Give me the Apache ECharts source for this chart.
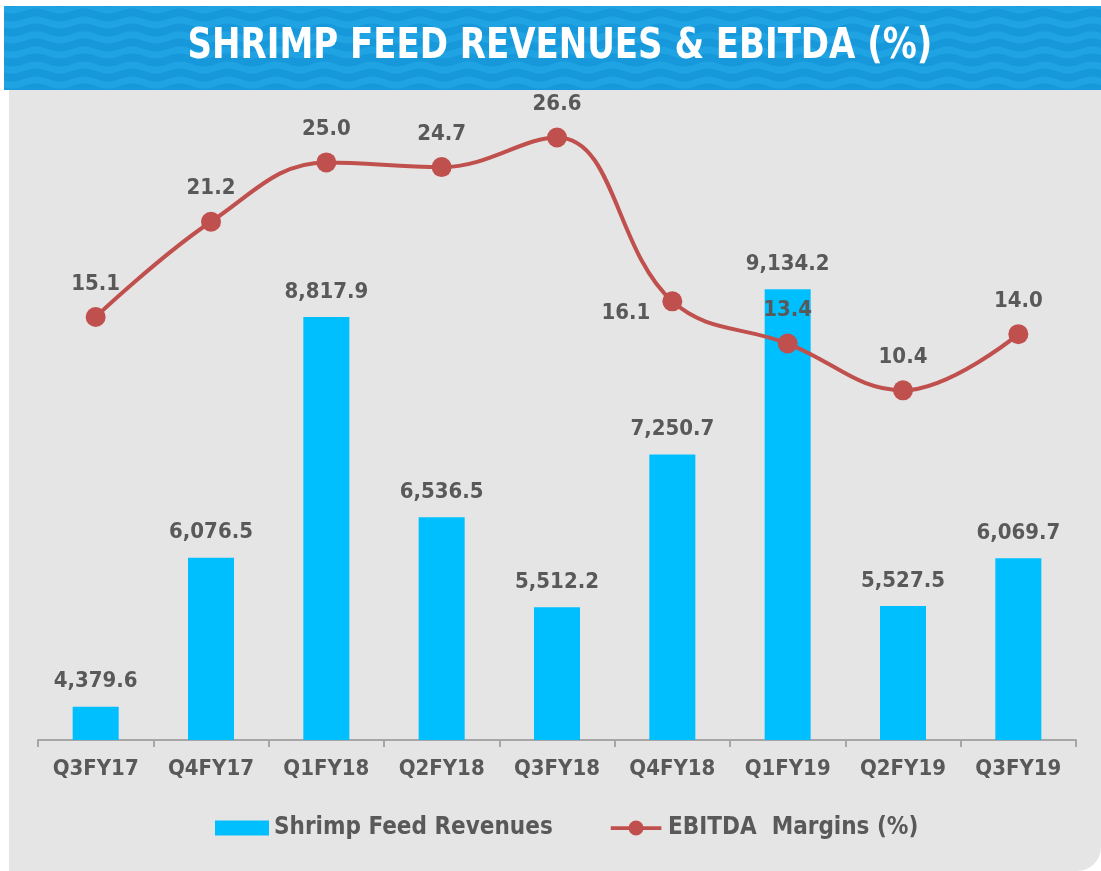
<!DOCTYPE html>
<html>
<head>
<meta charset="utf-8">
<title>Shrimp Feed Revenues & EBITDA</title>
<script src="https://cdn.jsdelivr.net/npm/echarts@6/dist/echarts.min.js"></script>
<style>
	html, body { margin: 0; padding: 0; background: #fff; }
	#container { width: 1101px; height: 871px; }
</style>
</head>
<body>
<div id="container"></div>
<script>
	// 数据
	var categories = ['Q3FY17', 'Q4FY17', 'Q1FY18', 'Q2FY18', 'Q3FY18', 'Q4FY18', 'Q1FY19', 'Q2FY19', 'Q3FY19'];
	var revenues = [4379.6, 6076.5, 8817.9, 6536.5, 5512.2, 7250.7, 9134.2, 5527.5, 6069.7];
	var ebitda = [15.1, 21.2, 25.0, 24.7, 26.6, 16.1, 13.4, 10.4, 14.0];

	var textGray = '#595959';
	var labelFont = '"DejaVu Sans Condensed", "DejaVu Sans", sans-serif';

	// 标题栏的波浪纹理
	function wavePattern() {
		var w = 48, h = 15;
		var c = document.createElement('canvas');
		c.width = w;
		c.height = h;
		var ctx = c.getContext('2d');
		ctx.fillStyle = '#1698db';
		ctx.fillRect(0, 0, w, h);
		ctx.fillStyle = '#1fa3e3';
		ctx.beginPath();
		var x;
		for (x = 0; x <= w; x++) {
			var y1 = 4 + 2.5 * Math.sin(x / w * Math.PI * 2);
			if (x === 0) ctx.moveTo(x, y1); else ctx.lineTo(x, y1);
		}
		for (x = w; x >= 0; x--) {
			ctx.lineTo(x, 11 + 2.5 * Math.sin(x / w * Math.PI * 2));
		}
		ctx.closePath();
		ctx.fill();
		return c;
	}

	function fmtRevenue(v) {
		var s = v.toFixed(1).split('.');
		return s[0].replace(/\B(?=(\d{3})+(?!\d))/g, ',') + '.' + s[1];
	}

	var lineData = ebitda.map(function (v, i) {
		if (categories[i] === 'Q4FY18') {
			return { value: v, label: { position: 'left', distance: 12, offset: [0, 12] } };
		}
		return v;
	});

	var option = {
		backgroundColor: '#ffffff',
		animation: false,
		graphic: [
			{
				type: 'rect',
				z: -10,
				shape: { x: 9, y: 88, width: 1092, height: 783, r: [0, 0, 24, 0] },
				style: { fill: '#e5e5e5' },
				silent: true
			},
			{
				type: 'rect',
				z: -9,
				shape: { x: 4, y: 6, width: 1097, height: 84 },
				style: { fill: { image: wavePattern(), repeat: 'repeat' } },
				silent: true
			},
			{
				type: 'text',
				z: -8,
				x: 560,
				y: 47,
				scaleX: 0.9,
				style: {
					text: 'SHRIMP FEED REVENUES & EBITDA (%)',
					fill: '#ffffff',
					font: 'bold 42px "DejaVu Sans Condensed", "DejaVu Sans", sans-serif',
					align: 'center',
					verticalAlign: 'middle'
				},
				silent: true
			}
		],
		legend: {
			top: 811,
			left: 210,
			itemWidth: 54,
			itemHeight: 15,
			itemGap: 58,
			textStyle: {
				color: textGray,
				fontSize: 24,
				fontWeight: 'bold',
				fontFamily: labelFont
			},
			data: [
				{ name: 'Shrimp Feed Revenues', icon: 'rect' },
				{
					name: 'EBITDA  Margins (%)',
					icon: 'path://M0,6L54,6L54,10L0,10Z M19,8A8,8,0,1,1,35,8A8,8,0,1,1,19,8Z',
					itemStyle: { color: '#c0504d' }
				}
			]
		},
		grid: {
			left: 38,
			right: 25,
			top: 100,
			bottom: 131
		},
		xAxis: {
			type: 'category',
			data: categories,
			axisLine: { show: true, onZero: false, lineStyle: { color: '#a6a6a6', width: 2 } },
			axisTick: { show: true, length: 7, lineStyle: { color: '#a6a6a6', width: 2 } },
			axisLabel: {
				color: textGray,
				fontSize: 22,
				fontWeight: 'bold',
				fontFamily: labelFont,
				margin: 18
			}
		},
		yAxis: [
			{
				type: 'value',
				min: 4000,
				max: 11290,
				show: false,
				splitLine: { show: false }
			},
			{
				type: 'value',
				min: -12,
				max: 29,
				show: false,
				splitLine: { show: false }
			}
		],
		series: [
			{
				name: 'Shrimp Feed Revenues',
				type: 'bar',
				barWidth: 46,
				yAxisIndex: 0,
				itemStyle: { color: '#00bfff' },
				label: {
					show: true,
					position: 'top',
					distance: 14,
					color: textGray,
					fontSize: 22,
					fontWeight: 'bold',
					fontFamily: labelFont,
					formatter: function (p) { return fmtRevenue(p.value); }
				},
				data: revenues
			},
			{
				name: 'EBITDA  Margins (%)',
				type: 'line',
				yAxisIndex: 1,
				smooth: 0.4,
				symbol: 'circle',
				symbolSize: 20,
				lineStyle: { color: '#c0504d', width: 4 },
				itemStyle: { color: '#c0504d' },
				label: {
					show: true,
					position: 'top',
					distance: 12,
					color: textGray,
					fontSize: 22,
					fontWeight: 'bold',
					fontFamily: labelFont,
					formatter: function (p) { return p.value.toFixed(1); }
				},
				data: lineData
			}
		]
	};

	var myChart = echarts.init(document.getElementById('container'));
	myChart.setOption(option);
</script>
</body>
</html>
